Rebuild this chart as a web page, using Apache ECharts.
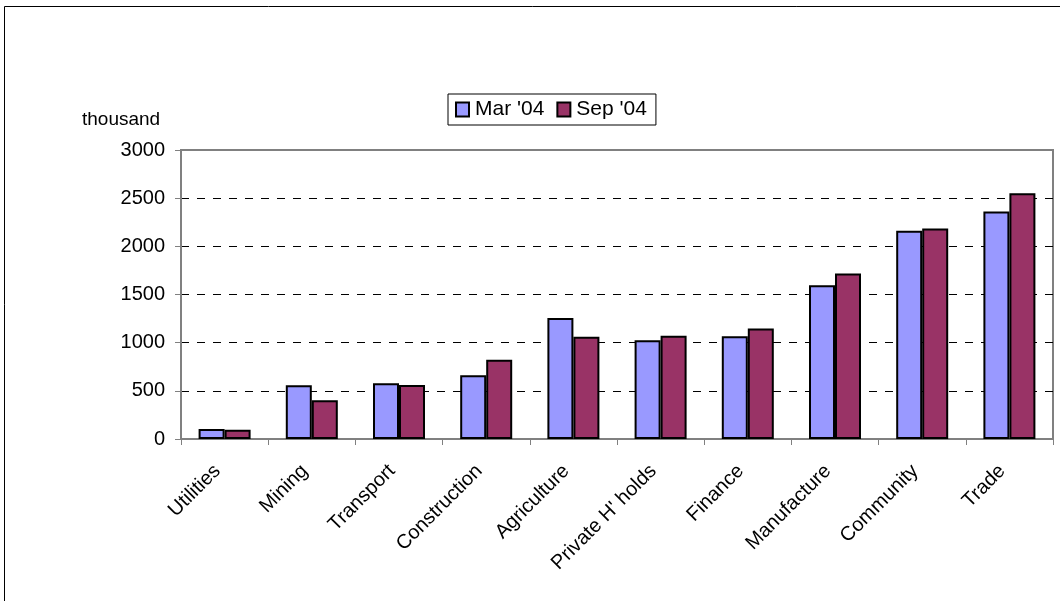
<!DOCTYPE html>
<html>
<head>
<meta charset="utf-8">
<script src="https://cdn.jsdelivr.net/npm/echarts@6/dist/echarts.min.js"></script>
<style>
  html, body { margin: 0; padding: 0; background: #fff; }
  #chart { width: 1060px; height: 601px; }
</style>
</head>
<body>
<div id="chart"></div>
<script>
var categories = ['Utilities', 'Mining', 'Transport', 'Construction', 'Agriculture',
    "Private H' holds", 'Finance', 'Manufacture', 'Community', 'Trade'];
var mar04 = [105, 557, 578, 661, 1256, 1025, 1066, 1596, 2163, 2361];
var sep04 = [95, 402, 561, 823, 1062, 1073, 1146, 1717, 2184, 2551];
var seriesNames = ["Mar '04", "Sep '04"];
var yTicks = { min: 0, max: 3000, interval: 500 };

var font = 'Arial, "Liberation Sans", sans-serif';

var option = {
    animation: false,
    textStyle: { fontFamily: font },
    graphic: [{
        type: 'rect',
        shape: { x: 4.5, y: 6.5, width: 1100, height: 700 },
        style: { fill: 'none', stroke: '#000', lineWidth: 1 },
        silent: true
    }, {
        type: 'text',
        left: 82,
        top: 110,
        style: { text: 'thousand', font: '19px ' + font, fill: '#000' }
    }],
    legend: {
        data: seriesNames,
        left: 448,
        top: 94,
        padding: [5, 9, 5, 7],
        itemWidth: 13,
        itemHeight: 14,
        itemGap: 12,
        borderColor: '#000',
        borderWidth: 1,
        icon: 'rect',
        textStyle: { fontSize: 21, color: '#000', fontFamily: font, padding: [0, 0, 0, 1] }
    },
    grid: {
        left: 181,
        right: 7,
        top: 150,
        bottom: 162,
        show: true,
        borderColor: '#808080',
        borderWidth: 2
    },
    xAxis: {
        type: 'category',
        data: categories,
        boundaryGap: true,
        axisLine: { lineStyle: { color: '#808080', width: 2 } },
        axisTick: { show: true, length: 6, lineStyle: { color: '#808080' } },
        axisLabel: { rotate: 45, fontSize: 20, color: '#000', margin: 36, interval: 0,
            verticalAlign: 'bottom', fontFamily: font }
    },
    yAxis: {
        type: 'value',
        min: yTicks.min,
        max: yTicks.max,
        interval: yTicks.interval,
        axisLine: { show: true, lineStyle: { color: '#808080', width: 2 } },
        axisTick: { show: true, length: 6, lineStyle: { color: '#808080' } },
        axisLabel: { fontSize: 20, color: '#000', margin: 16, fontFamily: font,
            formatter: function (v) { return String(v); } },
        splitLine: { show: true, showMinLine: false, showMaxLine: false,
            lineStyle: { color: '#000', type: [8, 8], width: 1 } }
    },
    series: [{
        name: seriesNames[0],
        type: 'bar',
        data: mar04,
        barWidth: 26,
        barGap: '0%',
        itemStyle: { color: '#9999FF', borderColor: '#000', borderWidth: 2 }
    }, {
        name: seriesNames[1],
        type: 'bar',
        data: sep04,
        barWidth: 26,
        barGap: '0%',
        itemStyle: { color: '#993366', borderColor: '#000', borderWidth: 2 }
    }]
};

var myChart = echarts.init(document.getElementById('chart'));
myChart.setOption(option);
</script>
</body>
</html>
